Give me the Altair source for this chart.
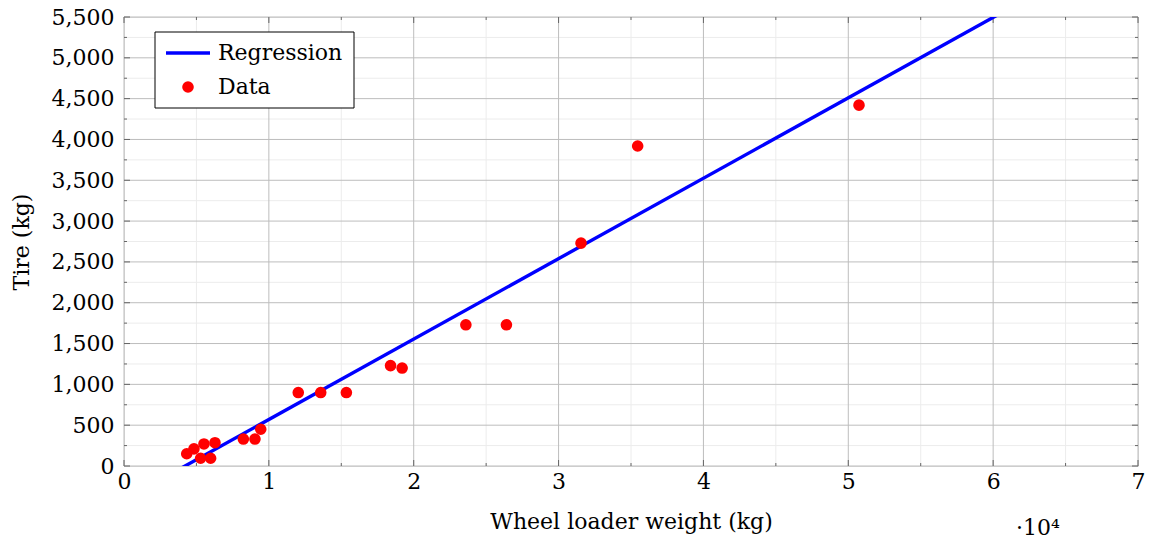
import altair as alt
import pandas as pd

# ---- data ----
weight = [4330, 4830, 5520, 6280, 5290, 5980, 8240, 9040, 9440, 12030, 13580, 15350,
          18400, 19200, 23600, 26400, 31550, 35460, 50740]
tire = [150, 210, 270, 285, 95, 95, 330, 330, 450, 900, 900, 900,
        1230, 1200, 1730, 1730, 2730, 3920, 4420]
reg_slope = 0.0985
reg_intercept = -415
x_major = [0, 10000, 20000, 30000, 40000, 50000, 60000, 70000]
x_minor = [5000, 15000, 25000, 35000, 45000, 55000, 65000]
y_major = [0, 500, 1000, 1500, 2000, 2500, 3000, 3500, 4000, 4500, 5000, 5500]
y_minor = [250, 750, 1250, 1750, 2250, 2750, 3250, 3750, 4250, 4750, 5250]

W, H = 1014, 449
FONT = "DejaVu Serif"
FS = 22

xs = alt.Scale(domain=[0, 70000], nice=False, zero=False)
ys = alt.Scale(domain=[0, 5500], nice=False, zero=False)

pts = pd.DataFrame({"w": weight, "t": tire})
line_df = pd.DataFrame({"w": [x_major[0], x_major[-1]]})
line_df["t"] = reg_slope * line_df["w"] + reg_intercept

xmaj = pd.DataFrame({"v": x_major})
xmin = pd.DataFrame({"v": x_minor})
ymaj = pd.DataFrame({"v": y_major})
ymin = pd.DataFrame({"v": y_minor})

x_axis = alt.Axis(values=x_major, labelExpr="datum.value / 10000", grid=False, domain=False,
                  ticks=False, labelFont=FONT, labelFontSize=FS, labelColor="black",
                  labelFlush=False, labelPadding=5, title="Wheel loader weight (kg)",
                  titleFont=FONT, titleFontSize=FS, titleFontWeight="normal",
                  titleColor="black", titlePadding=19)
y_axis = alt.Axis(values=y_major, format=",d", grid=False, domain=False, ticks=False,
                  labelFont=FONT, labelFontSize=FS, labelColor="black", labelPadding=10,
                  labelFlush=False, title="Tire (kg)", titleFont=FONT, titleFontSize=FS,
                  titleFontWeight="normal", titleColor="black", titlePadding=18)

# grid
gx_min = alt.Chart(xmin).mark_rule(color="#ececec", strokeWidth=1).encode(
    x=alt.X("v:Q", scale=xs, axis=x_axis))
gy_min = alt.Chart(ymin).mark_rule(color="#ececec", strokeWidth=1).encode(
    y=alt.Y("v:Q", scale=ys, axis=y_axis))
gx_maj = alt.Chart(xmaj).mark_rule(color="#bdbdbd", strokeWidth=1).encode(
    x=alt.X("v:Q", scale=xs))
gy_maj = alt.Chart(ymaj).mark_rule(color="#bdbdbd", strokeWidth=1).encode(
    y=alt.Y("v:Q", scale=ys))

# inward ticks on all four sides
tick_col = "#666666"
def xticks(df, L):
    b = alt.Chart(df).mark_rule(color=tick_col, strokeWidth=1).encode(
        x=alt.X("v:Q", scale=xs), y=alt.value(H), y2=alt.value(H - L))
    t = alt.Chart(df).mark_rule(color=tick_col, strokeWidth=1).encode(
        x=alt.X("v:Q", scale=xs), y=alt.value(0), y2=alt.value(L))
    return b + t
def yticks(df, L):
    l = alt.Chart(df).mark_rule(color=tick_col, strokeWidth=1).encode(
        y=alt.Y("v:Q", scale=ys), x=alt.value(0), x2=alt.value(L))
    r = alt.Chart(df).mark_rule(color=tick_col, strokeWidth=1).encode(
        y=alt.Y("v:Q", scale=ys), x=alt.value(W), x2=alt.value(W - L))
    return l + r

reg = alt.Chart(line_df).mark_line(color="#0000ff", strokeWidth=3.4, clip=True).encode(
    x=alt.X("w:Q", scale=xs), y=alt.Y("t:Q", scale=ys))
dots = alt.Chart(pts).mark_point(filled=True, color="#ff0000", size=135, opacity=1,
                                 shape="circle").encode(
    x=alt.X("w:Q", scale=xs), y=alt.Y("t:Q", scale=ys))

# legend
leg_box = alt.Chart(pd.DataFrame({"a": [0]})).mark_rect(
    fill="white", stroke="black", strokeWidth=1).encode(
    x=alt.value(31), x2=alt.value(230), y=alt.value(15), y2=alt.value(91))
leg_line = alt.Chart(pd.DataFrame({"a": [0]})).mark_rule(
    color="#0000ff", strokeWidth=3.4).encode(
    x=alt.value(42), x2=alt.value(86), y=alt.value(36))
leg_dot = alt.Chart(pd.DataFrame({"a": [0]})).mark_point(
    filled=True, color="#ff0000", size=135, opacity=1, shape="circle").encode(
    x=alt.value(64), y=alt.value(70))
leg_txt = alt.Chart(pd.DataFrame({"lab": ["Regression", "Data"], "yy": [36, 70]})).mark_text(
    font=FONT, fontSize=FS, align="left", baseline="middle", color="black").encode(
    x=alt.value(94), y=alt.Y("yy:Q", scale=None), text="lab:N")

exp_txt = alt.Chart(pd.DataFrame({"a": ["·10⁴"]})).mark_text(
    font=FONT, fontSize=FS, align="left", baseline="alphabetic", color="black").encode(
    x=alt.value(892), y=alt.value(518), text="a:N")

chart = alt.layer(
    gx_min, gy_min, gx_maj, gy_maj,
    xticks(xmaj, 6), xticks(xmin, 3), yticks(ymaj, 6), yticks(ymin, 3),
    reg, dots, leg_box, leg_line, leg_dot, leg_txt, exp_txt
).properties(
    width=W, height=H, autosize="none",
    padding={"left": 124, "top": 17, "right": 13, "bottom": 77},
).configure_view(stroke="black", strokeWidth=1.2).configure(background="white")

chart.save("out.html", embed_options={"renderer": "svg", "actions": False})
